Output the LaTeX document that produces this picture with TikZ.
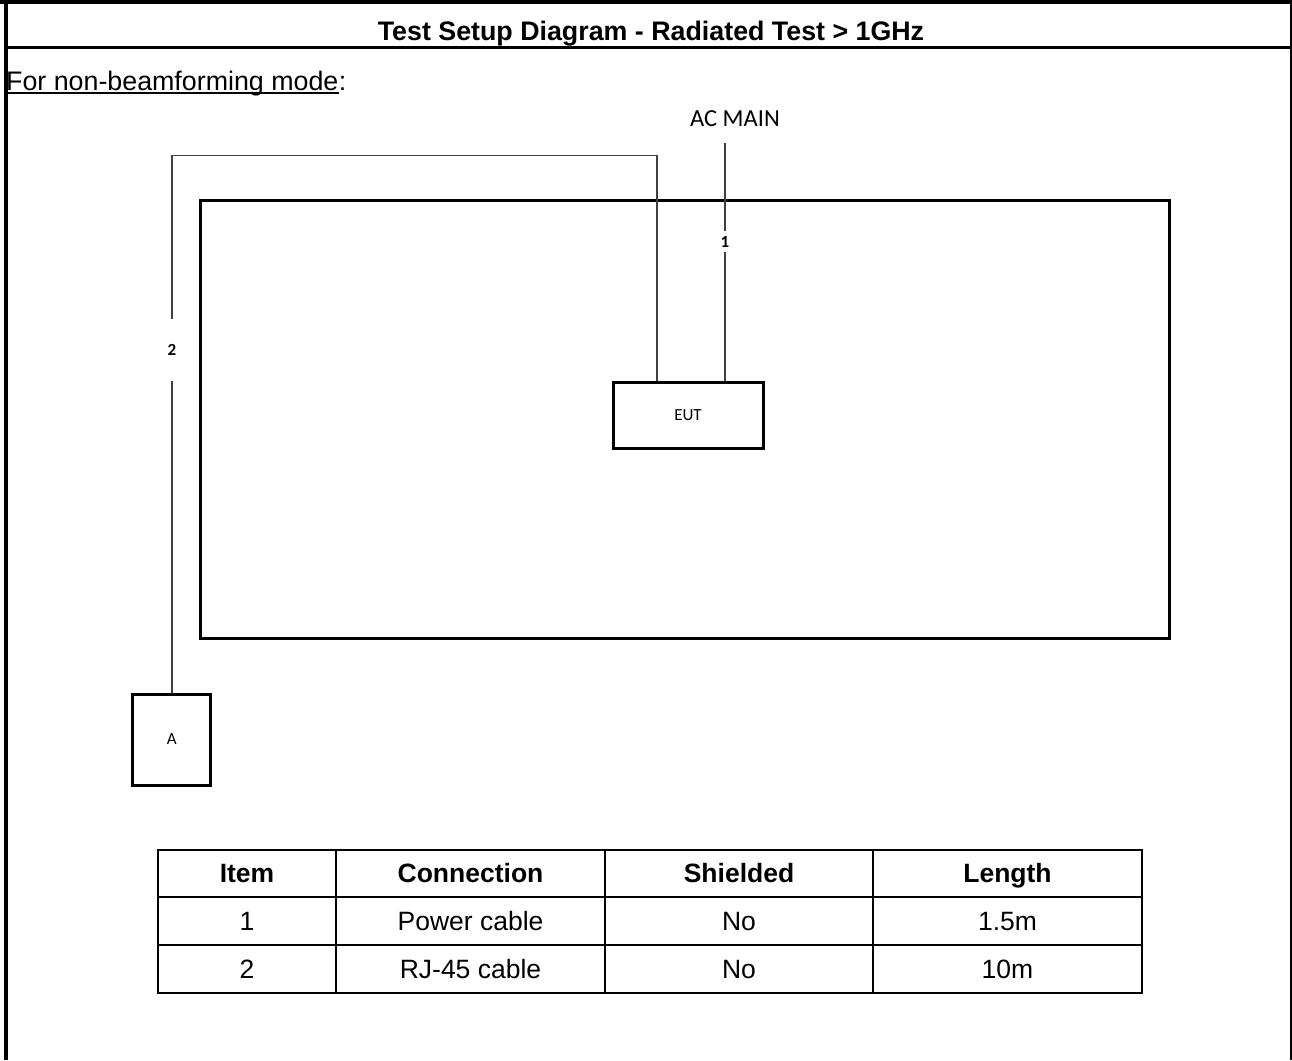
\documentclass[tikz,border=0pt]{standalone}
\usepackage{fontspec}
\setmainfont{Liberation Sans}
\newfontfamily\calib{Carlito}
\begin{document}
\begin{tikzpicture}[x=1pt,y=-1pt,
  cable/.style={draw=black!75,line width=1.5pt},
  devbox/.style={draw=black,line width=3pt,rectangle,inner sep=0pt},
  smalllbl/.style={font=\calib\fontsize{17}{19}\selectfont},
  cablelbl/.style={font=\calib\bfseries\fontsize{17}{19}\selectfont,inner xsep=2pt},
  tblline/.style={line width=2pt},
  tblhead/.style={font=\bfseries\fontsize{26.5}{30}\selectfont,anchor=base},
  tblcell/.style={font=\fontsize{26.5}{30}\selectfont,anchor=base}]
\useasboundingbox (0,0) rectangle (1292,1060);
% outer frame
\fill (0,0) rectangle (1292,4);
\fill (4,0) rectangle (8,1060);
\fill (1290,0) rectangle (1292,1060);
\fill (4,46) rectangle (1292,49);
\node[font=\bfseries\fontsize{26.8}{30}\selectfont,anchor=base] (title) at (651,40) {Test Setup Diagram - Radiated Test > 1GHz};
\node[anchor=base west,inner sep=0pt,font=\fontsize{26.8}{30}\selectfont] (fnb) at (6,90) {For non-beamforming mode};
\node[anchor=base west,inner sep=0pt,font=\fontsize{26.8}{30}\selectfont] (fnbc) at (fnb.base east) {:};
\draw[line width=1.6pt] ([yshift=-3pt]fnb.base west) -- ([yshift=-3pt]fnb.base east);
% table area rectangle
\node[devbox,minimum width=969pt,minimum height=438pt] (area) at (684.5,419) {};
% EUT and A
\node[devbox,minimum width=150pt,minimum height=66pt,smalllbl] (eut) at (688,415) {EUT};
\node[devbox,minimum width=78pt,minimum height=91pt,smalllbl] (auxa) at (171.7,739.5) {A};
% AC main cable 1
\node[font=\calib\fontsize{24.5}{28}\selectfont] (ac) at (735,119) {AC MAIN};
\coordinate (actop) at (725,143);
\node[cablelbl,inner ysep=5pt] (l1) at (725,241.5) {1};
\draw[cable] (actop) -- (l1);
\draw[cable] (l1) -- (l1 |- eut.north);
% cable 2
\coordinate (e2) at ([xshift=-31pt]eut.north);
\node[cablelbl,inner ysep=25pt] (l2) at (172,350) {2};
\draw[cable] (e2) -- ++(0,-225) -| (l2);
\draw[cable] (l2) -- (l2 |- auxa.north);
% table
\draw[tblline] (158,850) rectangle (1142,993);
\draw[tblline] (158,896.5) -- (1142,896.5);
\draw[tblline] (158,945) -- (1142,945);
\draw[tblline] (336,850) -- (336,993);
\draw[tblline] (605,850) -- (605,993);
\draw[tblline] (873,850) -- (873,993);
\node[tblhead] (h1) at (247,882.5) {Item};
\node[tblhead] (h2) at (470.5,882.5) {Connection};
\node[tblhead] (h3) at (739,882.5) {Shielded};
\node[tblhead] (h4) at (1007.5,882.5) {Length};
\node[tblcell] (r11) at (247,930.5) {1};
\node[tblcell] (r12) at (470.5,930.5) {Power cable};
\node[tblcell] (r13) at (739,930.5) {No};
\node[tblcell] (r14) at (1007.5,930.5) {1.5m};
\node[tblcell] (r21) at (247,978.5) {2};
\node[tblcell] (r22) at (470.5,978.5) {RJ-45 cable};
\node[tblcell] (r23) at (739,978.5) {No};
\node[tblcell] (r24) at (1007.5,978.5) {10m};
\end{tikzpicture}
\end{document}
